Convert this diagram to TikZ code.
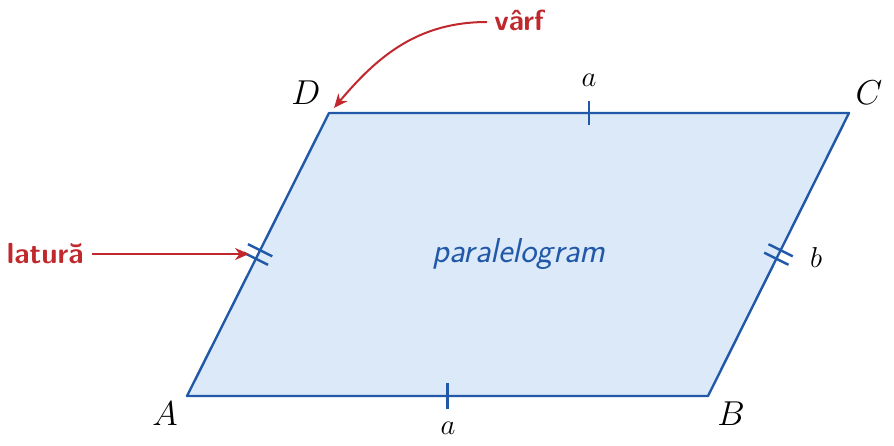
\documentclass[tikz,border=0pt]{standalone}
\usepackage{tikz}
\usetikzlibrary{arrows.meta,calc}
\definecolor{pblue}{HTML}{2159A8}
\definecolor{pfill}{HTML}{DBE9F8}
\definecolor{pred}{HTML}{C0282D}
\begin{document}
\begin{tikzpicture}[x=0.5pt,y=-0.5pt,
  side/.style={draw=pblue,line width=1.2pt,line join=round},
  tick/.style={draw=pblue,line width=1.2pt},
  vlabel/.style={font=\fontsize{17.5}{20}\selectfont,inner sep=0pt},
  slabel/.style={font=\fontsize{14.5}{16}\selectfont,inner sep=0pt},
  note/.style={font=\fontsize{14.5}{17}\selectfont\sffamily\bfseries,text=pred,inner sep=0pt},
  pointer/.style={draw=pred,line width=1pt,-{Stealth[length=7pt,width=6pt]}}]
\useasboundingbox (0,0) rectangle (894,445);
\coordinate (A) at (187,396);
\coordinate (B) at (708,396);
\coordinate (C) at (849,113);
\coordinate (D) at (329,113);
\fill[pfill] (A) -- (B) -- (C) -- (D) -- cycle;
\draw[side] (A) -- (B) -- (C) -- (D) -- cycle;
% single ticks on AB and DC
\coordinate (mAB) at ($(A)!0.5!(B)$);
\coordinate (mDC) at ($(D)!0.5!(C)$);
\draw[tick] ($(mAB)+(0,-13)$) -- ($(mAB)+(0,13)$);
\draw[tick] ($(mDC)+(0,-12)$) -- ($(mDC)+(0,12)$);
% double ticks on AD and BC
\foreach \p/\q in {A/D, B/C}{
  \foreach \s in {-0.015,0.015}{
    \coordinate (t) at ($(\p)!0.5+\s!(\q)$);
    \draw[tick] ($(t)!6.8pt!90:(\q)$) -- ($(t)!6.8pt!-90:(\q)$);
  }
}
% vertex labels
\node[vlabel] (lA) at (165,414) {$A$};
\node[vlabel] (lB) at (731,414) {$B$};
\node[vlabel] (lC) at (869,93) {$C$};
\node[vlabel] (lD) at (306,93) {$D$};
% side labels
\node[slabel] (la1) at (448,428) {$a$};
\node[slabel] (la2) at (589,80) {$a$};
\node[slabel] (lb) at (816,257) {$b$};
% center label
\node[font=\fontsize{17.3}{20}\selectfont\sffamily\itshape,text=pblue,inner sep=0pt] (par) at (519,254) {paralelogram};
% annotations
\node[note,anchor=east] (lat) at (84,254) {latură};
\coordinate (latEnd) at (249,254);
\draw[pointer] (lat.east) ++(8,0) -- (latEnd);
\node[note,anchor=west] (varf) at (494,20) {vârf};
\coordinate (varfEnd) at (334,108);
\draw[pointer] ($(varf.west)+(-7,2)$) to[out=180,in=50] (varfEnd);
\end{tikzpicture}
\end{document}
